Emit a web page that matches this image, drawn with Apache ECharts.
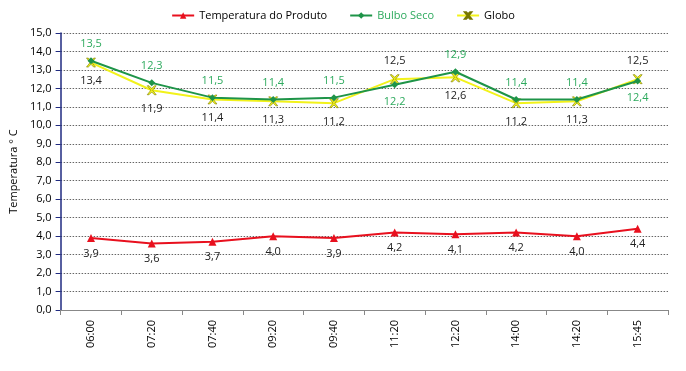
<!DOCTYPE html>
<html><head><meta charset="utf-8">
<script src="https://cdn.jsdelivr.net/npm/echarts@6/dist/echarts.min.js"></script>
<style>html,body{margin:0;padding:0;background:#fff}#c{width:686px;height:371px}</style>
</head><body><div id="c"></div>
<script>
const categories = ['06:00','07:20','07:40','09:20','09:40','11:20','12:20','14:00','14:20','15:45'];
const produto = [3.9,3.6,3.7,4.0,3.9,4.2,4.1,4.2,4.0,4.4];
const bulbo = [13.5,12.3,11.5,11.4,11.5,12.2,12.9,11.4,11.4,12.4];
const globo = [13.4,11.9,11.4,11.3,11.2,12.5,12.6,11.2,11.3,12.5];
// label positions (above/below) as seen in the reference
const bulboPos = ['top','top','top','top','top','bottom','top','top','top','bottom'];
const globoPos = ['bottom','bottom','bottom','bottom','bottom','top','bottom','bottom','bottom','top'];

const fmt = v => v.toFixed(1).replace('.', ',');
const font = 'Open Sans';
const xPath = 'path://M0,0 L2,0 L5,3 L8,0 L10,0 L6,5 L10,10 L8,10 L5,7 L2,10 L0,10 L4,5 Z';

const chart = echarts.init(document.getElementById('c'));
chart.setOption({
  animation: false,
  textStyle: {fontFamily: font},
  legend: {
    top: 5, left: 'center', itemWidth: 22, itemHeight: 8, itemGap: 22,
    textStyle: {fontSize: 11, fontFamily: font, color: '#000'},
    data: [
      {name: 'Temperatura do Produto'},
      {name: 'Bulbo Seco', textStyle: {color: '#2EAA5E'}},
      {name: 'Globo'}
    ]
  },
  grid: {left: 57, right: 18, top: 33, bottom: 61},
  xAxis: {
    type: 'category', data: categories, boundaryGap: true,
    axisLine: {lineStyle: {color: '#888'}},
    axisTick: {show: true, length: 5, lineStyle: {color: '#888'}},
    axisLabel: {rotate: 90, fontSize: 11, color: '#000', fontFamily: font, margin: 10}
  },
  yAxis: {
    type: 'value', min: 0, max: 15, interval: 1,
    name: 'Temperatura ° C', nameLocation: 'middle', nameGap: 34, nameRotate: 90,
    nameTextStyle: {fontSize: 11, color: '#000', fontFamily: font},
    axisLine: {show: true, lineStyle: {color: '#1F2A80', width: 1.5}},
    axisTick: {show: true, length: 5, inside: false, lineStyle: {color: '#1F2A80'}},
    axisLabel: {fontSize: 11, color: '#000', formatter: v => fmt(v), margin: 9},
    splitLine: {lineStyle: {color: '#666', type: [1.5, 1.5], width: 1}}
  },
  series: [
    {
      name: 'Temperatura do Produto', type: 'line', data: produto,
      symbol: 'triangle', symbolSize: 8,
      lineStyle: {color: '#E8101E', width: 2},
      itemStyle: {color: '#E8101E'},
      label: {show: true, position: 'bottom', distance: 6, formatter: p => fmt(p.value), color: '#222', fontSize: 11}
    },
    {
      name: 'Bulbo Seco', type: 'line', z: 3,
      data: bulbo.map((v, i) => ({value: v, label: {position: bulboPos[i]}})),
      symbol: 'diamond', symbolSize: 7,
      lineStyle: {color: '#1E9448', width: 2},
      itemStyle: {color: '#1E9448'},
      label: {show: true, distance: 8, formatter: p => fmt(p.value), color: '#2EAA5E', fontSize: 11}
    },
    {
      name: 'Globo', type: 'line', z: 2,
      data: globo.map((v, i) => ({value: v, label: {position: globoPos[i]}})),
      symbol: xPath, symbolSize: 9,
      lineStyle: {color: '#F2F21A', width: 2},
      itemStyle: {color: '#F2F21A', borderColor: '#777700', borderWidth: 0.6},
      label: {show: true, distance: 8, formatter: p => fmt(p.value), color: '#222', fontSize: 11}
    }
  ]
});
</script></body></html>
